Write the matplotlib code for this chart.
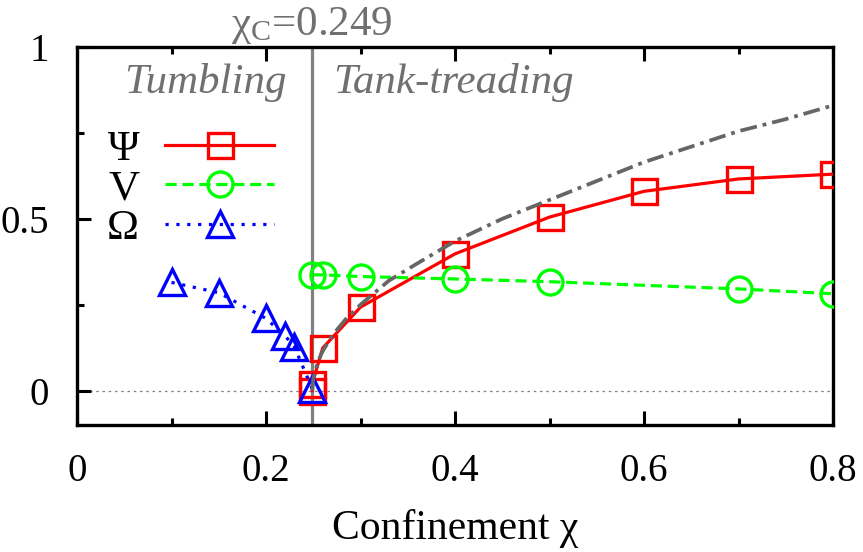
import matplotlib
matplotlib.use("Agg")
import matplotlib.pyplot as plt
from matplotlib.ticker import MultipleLocator, FixedLocator

plt.rcParams['font.family'] = ['Liberation Serif', 'DejaVu Serif']
plt.rcParams['mathtext.fontset'] = 'custom'
plt.rcParams['mathtext.rm'] = 'Liberation Serif'
plt.rcParams['mathtext.default'] = 'regular'

# ---- data ----
chi_c = 0.249

psi_x = [0.249, 0.249, 0.26, 0.3, 0.4, 0.5, 0.6, 0.7, 0.8]
psi_y = [0.0, 0.02, 0.124, 0.243, 0.398, 0.505, 0.58, 0.616, 0.63]

v_x = [0.249, 0.26, 0.3, 0.4, 0.5, 0.7, 0.8]
v_y = [0.337, 0.337, 0.332, 0.325, 0.317, 0.296, 0.282]

om_x = [0.1, 0.15, 0.2, 0.22, 0.23, 0.249]
om_y = [0.315, 0.285, 0.21, 0.16, 0.128, 0.005]

theory_x = [0.249, 0.25, 0.255, 0.26, 0.27, 0.285, 0.3, 0.33, 0.36, 0.4,
            0.45, 0.5, 0.55, 0.6, 0.65, 0.7, 0.75, 0.8]
theory_y = [0.0, 0.035, 0.085, 0.115, 0.16, 0.21, 0.25, 0.32, 0.37, 0.435,
            0.5, 0.555, 0.61, 0.665, 0.71, 0.755, 0.79, 0.83]

x_major = [0, 0.2, 0.4, 0.6, 0.8]
x_labels = ['0', '0.2', '0.4', '0.6', '0.8']
y_major = [0, 0.5, 1]
y_labels = ['0', '0.5', '1']

FS_TICK = 28
FS_TEXT = 31
gray_txt = '#707070'

fig = plt.figure(figsize=(8.63, 5.52), dpi=100)
ax = fig.add_axes([77/863, 1-425/552, (833-77)/863, (425-47)/552])

ax.set_xlim(0, 0.8)
ax.set_ylim(-0.1, 1.0)

# zero line and critical line
ax.axhline(0, color='#808080', lw=0.9, ls=(0, (2, 3)), zorder=1)
ax.axvline(chi_c, color='#808080', lw=2.3, zorder=1)

ax.plot(psi_x, psi_y, color='#ff0000', lw=2.3, marker='s', ms=18,
        mfc='none', mec='#ff0000', mew=2.4, label='Ψ', zorder=3)
ax.plot(v_x, v_y, color='#00ff00', lw=2.3, ls=(0, (3.5, 1.8)), marker='o', ms=18,
        mfc='none', mec='#00ff00', mew=2.4, label='V', zorder=3)
ax.plot(om_x, om_y, color='#0000ff', lw=2.3, ls=(0, (1, 2.4)), marker='^', ms=19,
        mfc='none', mec='#0000ff', mew=2.4, label='Ω', zorder=4)
ax.plot(theory_x, theory_y, color='#666666', lw=2.7, ls=(0, (4.5, 1.6, 1, 1.6)),
        zorder=5)

# ticks
ax.xaxis.set_major_locator(FixedLocator(x_major))
ax.set_xticklabels(x_labels)
ax.xaxis.set_minor_locator(MultipleLocator(0.1))
ax.yaxis.set_major_locator(FixedLocator(y_major))
ax.set_yticklabels(y_labels)
ax.yaxis.set_minor_locator(MultipleLocator(0.25))
ax.tick_params(which='both', direction='in', top=True, right=False,
               width=2.2, labelsize=FS_TICK, colors='black')
ax.tick_params(which='major', length=10)
ax.tick_params(which='minor', length=5)
ax.tick_params(axis='x', which='major', pad=20)
ax.tick_params(axis='y', which='major', pad=20)
for s in ax.spines.values():
    s.set_linewidth(2.4)

ax.set_xlabel('Confinement χ', fontsize=30, labelpad=14)

# annotations
ax.text(chi_c, 1.035, 'χ$_C$=0.249', fontsize=FS_TEXT, color=gray_txt,
        ha='center', va='baseline', clip_on=False)
ax.text(chi_c - 0.027, 0.865, 'Tumbling', fontsize=FS_TEXT, color=gray_txt,
        style='italic', ha='right', va='baseline')
ax.text(chi_c + 0.0225, 0.865, 'Tank-treading', fontsize=FS_TEXT, color=gray_txt,
        style='italic', ha='left', va='baseline')

leg = ax.legend(loc='upper left', bbox_to_anchor=(0.04, 0.78), frameon=False,
                markerfirst=False, fontsize=31, handlelength=2.53,
                handletextpad=0.6, labelspacing=0.0, borderpad=0.0,
                borderaxespad=0.0, handleheight=0.7)

fig.savefig('out.png', dpi=100)
